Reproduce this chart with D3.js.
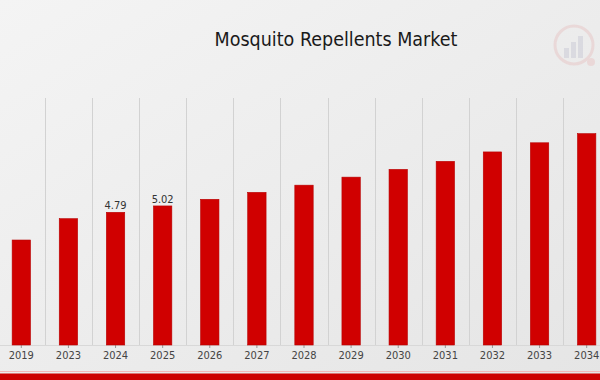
<!DOCTYPE html>
<html>
<head>
<meta charset="utf-8">
<script src="https://cdn.jsdelivr.net/npm/d3@7"></script>
<style>
  body { margin: 0; }
  svg { display: block; }
</style>
</head>
<body>
<div id="chart"></div>
<script>
const years = ['2019', '2023', '2024', '2025', '2026', '2027', '2028', '2029', '2030', '2031', '2032', '2033', '2034'];
const marketSize = [3.79, 4.56, 4.79, 5.02, 5.26, 5.51, 5.77, 6.06, 6.34, 6.63, 6.97, 7.30, 7.63];
const labelledYears = ['2024', '2025'];
const title = 'Mosquito Repellents Market';

const W = 600, H = 380;
const margin = { top: 98, right: -10, bottom: 35, left: -2 };

const svg = d3.select('#chart').append('svg')
    .attr('width', W)
    .attr('height', H);

// background
const grad = svg.append('defs').append('linearGradient')
    .attr('id', 'bg')
    .attr('x1', '0%').attr('y1', '0%')
    .attr('x2', '100%').attr('y2', '100%');
grad.append('stop').attr('offset', '0%').attr('stop-color', '#f4f4f4');
grad.append('stop').attr('offset', '100%').attr('stop-color', '#e5e5e5');
svg.append('rect').attr('width', W).attr('height', H).attr('fill', 'url(#bg)');

// X
const x = d3.scaleBand()
    .domain(years)
    .range([margin.left, W - margin.right])
    .paddingInner(0.61)
    .paddingOuter(0.3);

// Y  (zero at the axis, ~27.7px per unit)
const y = d3.scaleLinear()
    .domain([0, 10])
    .range([H - margin.bottom, H - margin.bottom - 277]);

const baseY = y(0);

// grid lines between bands
const step = x.step();
svg.append('g')
    .selectAll('line')
    .data(years.slice(1))
    .join('line')
    .attr('x1', d => Math.round(x(d) - step * x.paddingInner() / 2) + 0.5)
    .attr('x2', d => Math.round(x(d) - step * x.paddingInner() / 2) + 0.5)
    .attr('y1', margin.top)
    .attr('y2', baseY)
    .attr('stroke', '#d2d2d2')
    .attr('stroke-width', 1);

// Axis
const axis = svg.append('g')
    .attr('transform', `translate(0,${baseY})`)
    .call(d3.axisBottom(x).tickSizeOuter(0).tickSize(3).tickPadding(3));
axis.select('.domain').attr('stroke', '#d8d8d8');
axis.selectAll('.tick line').attr('stroke', '#999');
axis.selectAll('.tick text')
    .attr('fill', '#444')
    .style('font-family', 'DejaVu Sans Condensed, DejaVu Sans, sans-serif')
    .style('font-stretch', 'condensed')
    .style('font-size', '11px');

// Bars
svg.append('g')
    .selectAll('rect')
    .data(years)
    .join('rect')
    .attr('x', d => x(d))
    .attr('width', x.bandwidth())
    .attr('y', (d, i) => y(marketSize[i]))
    .attr('height', (d, i) => baseY - y(marketSize[i]))
    .attr('fill', '#d00000')
    .attr('stroke', '#b80000')
    .attr('stroke-width', 0.6);

// value labels
svg.append('g')
    .selectAll('text')
    .data(years.filter(d => labelledYears.includes(d)))
    .join('text')
    .attr('x', d => x(d) + x.bandwidth() / 2)
    .attr('y', d => y(marketSize[years.indexOf(d)]) - 3)
    .attr('text-anchor', 'middle')
    .attr('fill', '#333')
    .style('font-family', 'DejaVu Sans Condensed, DejaVu Sans, sans-serif')
    .style('font-stretch', 'condensed')
    .style('font-size', '11px')
    .text(d => marketSize[years.indexOf(d)].toFixed(2));

// Title
svg.append('text')
    .attr('x', 336)
    .attr('y', 46)
    .attr('text-anchor', 'middle')
    .attr('fill', '#1a1a1a')
    .style('font-family', 'DejaVu Sans Condensed, DejaVu Sans, sans-serif')
    .style('font-stretch', 'condensed')
    .style('font-size', '19.5px')
    .text(title);

// faint logo watermark
const logo = svg.append('g').attr('transform', 'translate(574,45)').attr('opacity', 0.25);
logo.append('circle').attr('r', 19).attr('fill', 'none').attr('stroke', '#e4a0a0').attr('stroke-width', 3);
logo.selectAll('rect')
    .data([10, 16, 22])
    .join('rect')
    .attr('x', (d, i) => -10 + i * 7)
    .attr('y', d => 13 - d)
    .attr('width', 5)
    .attr('height', d => d)
    .attr('fill', '#a8a8c0');
logo.append('circle').attr('cx', 17).attr('cy', 17).attr('r', 4).attr('fill', '#e8a0a0');

// bottom band
svg.append('line')
    .attr('x1', 0).attr('x2', W)
    .attr('y1', 371.5).attr('y2', 371.5)
    .attr('stroke', '#f2b8b8');
svg.append('rect')
    .attr('x', 0).attr('y', 373.5)
    .attr('width', W).attr('height', H - 373.5)
    .attr('fill', '#cc0000');
</script>
</body>
</html>
